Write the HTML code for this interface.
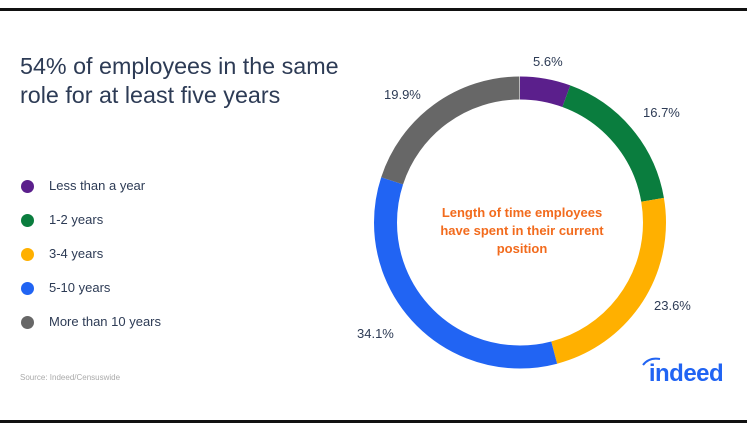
<!DOCTYPE html>
<html><head><meta charset="utf-8"><style>
body{margin:0;background:#fff;}
.wrap{position:relative;width:747px;height:431px;overflow:hidden;font-family:"Liberation Sans",sans-serif;}
.line{position:absolute;left:0;width:747px;height:3px;background:#111;}
.title{position:absolute;left:20px;top:52px;font-size:23.3px;line-height:29px;color:#2d3b55;}
.leg{position:absolute;left:49px;font-size:13px;color:#2d3b55;}
.dot{position:absolute;left:21px;width:13px;height:13px;border-radius:50%;}
.src{position:absolute;left:20px;top:373px;font-size:8px;color:#aaa;}
.lbl{position:absolute;font-size:13px;color:#2d3b55;}
</style></head><body><div class="wrap">
<div class="line" style="top:8px"></div>
<div class="line" style="top:420px"></div>
<div class="title">54% of employees in the same<br>role for at least five years</div>
<div class="dot" style="top:180px;background:#5b1f8c"></div><div class="leg" style="top:178px">Less than a year</div>
<div class="dot" style="top:214px;background:#0a7d3e"></div><div class="leg" style="top:212px">1-2 years</div>
<div class="dot" style="top:248px;background:#ffb000"></div><div class="leg" style="top:246px">3-4 years</div>
<div class="dot" style="top:282px;background:#2164f3"></div><div class="leg" style="top:280px">5-10 years</div>
<div class="dot" style="top:316px;background:#676767"></div><div class="leg" style="top:314px">More than 10 years</div>
<div class="src">Source: Indeed/Censuswide</div>
<svg style="position:absolute;left:0;top:0" width="747" height="431">
<g transform="rotate(-90 520 222.5)" fill="none" stroke-width="23">
<circle cx="520" cy="222.5" r="134.5" stroke="#5b1f8c" stroke-dasharray="47.3 1000" stroke-dashoffset="0"/>
<circle cx="520" cy="222.5" r="134.5" stroke="#0a7d3e" stroke-dasharray="141.1 1000" stroke-dashoffset="-47.3"/>
<circle cx="520" cy="222.5" r="134.5" stroke="#ffb000" stroke-dasharray="199.4 1000" stroke-dashoffset="-188.4"/>
<circle cx="520" cy="222.5" r="134.5" stroke="#2164f3" stroke-dasharray="288.2 1000" stroke-dashoffset="-387.8"/>
<circle cx="520" cy="222.5" r="134.5" stroke="#676767" stroke-dasharray="168.2 1000" stroke-dashoffset="-676"/>
</g>
<g font-family="Liberation Sans,sans-serif" font-size="13" font-weight="bold" fill="#f26b1d" text-anchor="middle">
<text x="522" y="217">Length of time employees</text>
<text x="522" y="235">have spent in their current</text>
<text x="522" y="253">position</text>
</g>
<text x="686" y="381" font-family="Liberation Sans,sans-serif" font-size="24" font-weight="bold" fill="#2164f3" text-anchor="middle" letter-spacing="-0.5">indeed</text>
<path d="M643 365 q6 -8 17 -6" stroke="#2164f3" stroke-width="2" fill="none"/>
</svg>
<div class="lbl" style="left:533px;top:54px">5.6%</div>
<div class="lbl" style="left:643px;top:105px">16.7%</div>
<div class="lbl" style="left:654px;top:298px">23.6%</div>
<div class="lbl" style="left:357px;top:326px">34.1%</div>
<div class="lbl" style="left:384px;top:87px">19.9%</div>
</div></body></html>
